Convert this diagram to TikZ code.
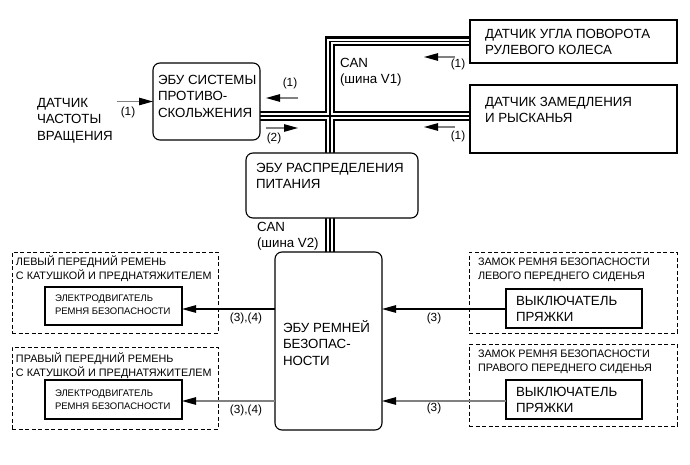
\documentclass[tikz,border=0pt]{standalone}
\usepackage{fontspec}
\setmainfont{Liberation Sans}
\usetikzlibrary{arrows.meta,fit,backgrounds}
\begin{document}
\begin{tikzpicture}[x=1pt,y=-1pt,
  every node/.style={inner sep=0pt,outer sep=0pt},
  rbox/.style={draw,line width=1.1pt,rounded corners=7pt,fill=white,inner sep=0pt},
  sbox/.style={draw,line width=1.1pt,fill=white,inner sep=0pt},
  dbox/.style={draw,line width=1pt,dash pattern=on 4pt off 2.5pt,inner sep=0pt},
  maintext/.style={anchor=north west,align=left,font=\fontsize{13.3}{16.6}\selectfont},
  smalltext/.style={anchor=north west,align=left,font=\fontsize{10.8}{14.2}\selectfont},
  tinytext/.style={anchor=north west,align=left,font=\fontsize{9.5}{13}\selectfont},
  lbl/.style={font=\fontsize{11.8}{13}\selectfont},
  arr/.style={line width=1.1pt,-{Triangle[length=14pt,width=7.5pt,color=black]}},
  garr/.style={arr,draw=black!50},
]
\useasboundingbox (0,0) rectangle (690,465);

% boxes
\node[rbox,fit={(153,63) (260,140)}] (abs) {};
\node[rbox,fit={(246,153) (418,218)}] (pwr) {};
\node[sbox,fit={(470,20) (677,63)}] (steer) {};
\node[sbox,fit={(470,85) (677,153)}] (yaw) {};
\node[rbox,fit={(275,252) (382,430)}] (belt) {};
\node[dbox,fit={(12,252) (218,333)}] (dl1) {};
\node[sbox,fit={(45,287) (182,325)}] (m1) {};
\node[dbox,fit={(12,347) (218,429)}] (dl2) {};
\node[sbox,fit={(45,380) (182,419)}] (m2) {};
\node[dbox,fit={(469,252) (677,333)}] (dr1) {};
\node[sbox,fit={(506,289) (642,328)}] (b1) {};
\node[dbox,fit={(469,344) (677,426)}] (dr2) {};
\node[sbox,fit={(506,380) (642,419)}] (b2) {};

% bus
\coordinate (bt) at (330,42);
\coordinate (bm) at (330,116);
\begin{scope}[on background layer]
\foreach \w/\c in {10/black,5.5/white,1.5/black}{
  \draw[line width=\w pt,draw=\c,line join=miter] (steer.west) -- (steer.west -| bt) -- (bt |- belt.north);
  \draw[line width=\w pt,draw=\c] (abs.east |- bm) -- (bm -| yaw.west);
}
\end{scope}

% texts
\node[maintext] (trot) at (37,98) {ДАТЧИК\\ЧАСТОТЫ\\ВРАЩЕНИЯ};
\node[maintext] (tabs) at (158,75) {ЭБУ СИСТЕМЫ\\ПРОТИВО-\\СКОЛЬЖЕНИЯ};
\node[maintext] (tpwr) at (256,163) {ЭБУ РАСПРЕДЕЛЕНИЯ\\ПИТАНИЯ};
\node[maintext] (tcan2) at (257,222) {CAN\\(шина V2)};
\node[maintext] (tcan1) at (340,58) {CAN\\(шина V1)};
\node[maintext] (tsteer) at (485,29) {ДАТЧИК УГЛА ПОВОРОТА\\РУЛЕВОГО КОЛЕСА};
\node[maintext] (tyaw) at (485,97) {ДАТЧИК ЗАМЕДЛЕНИЯ\\И РЫСКАНЬЯ};
\node[maintext] (tbelt) at (283,320) {ЭБУ РЕМНЕЙ\\БЕЗОПАС-\\НОСТИ};
\node[smalltext] (tdl1) at (16,256) {ЛЕВЫЙ ПЕРЕДНИЙ РЕМЕНЬ\\С КАТУШКОЙ И ПРЕДНАТЯЖИТЕЛЕМ};
\node[tinytext] (tm1) at (55,295) {ЭЛЕКТРОДВИГАТЕЛЬ\\РЕМНЯ БЕЗОПАСНОСТИ};
\node[smalltext] (tdl2) at (16,353) {ПРАВЫЙ ПЕРЕДНИЙ РЕМЕНЬ\\С КАТУШКОЙ И ПРЕДНАТЯЖИТЕЛЕМ};
\node[tinytext] (tm2) at (55,390) {ЭЛЕКТРОДВИГАТЕЛЬ\\РЕМНЯ БЕЗОПАСНОСТИ};
\node[smalltext] (tdr1) at (478,258) {ЗАМОК РЕМНЯ БЕЗОПАСНОСТИ\\ЛЕВОГО ПЕРЕДНЕГО СИДЕНЬЯ};
\node[maintext] (tb1) at (516,296) {ВЫКЛЮЧАТЕЛЬ\\ПРЯЖКИ};
\node[smalltext] (tdr2) at (478,350) {ЗАМОК РЕМНЯ БЕЗОПАСНОСТИ\\ПРАВОГО ПЕРЕДНЕГО СИДЕНЬЯ};
\node[maintext] (tb2) at (516,387) {ВЫКЛЮЧАТЕЛЬ\\ПРЯЖКИ};

% labels
\node[lbl] (l1) at (128,112) {(1)};
\node[lbl] (l2) at (290,83) {(1)};
\node[lbl] (l3) at (274,138) {(2)};
\node[lbl] (l4) at (458,64) {(1)};
\node[lbl] (l5) at (458,136) {(1)};
\node[lbl] (l6) at (246,318) {(3),(4)};
\node[lbl] (l7) at (246,410) {(3),(4)};
\node[lbl] (l8) at (434,318) {(3)};
\node[lbl] (l9) at (434,408) {(3)};

% small arrows
\coordinate (rotA) at (117,101.5);
\coordinate (a1s) at (298,98);  \coordinate (a1e) at (266,98);
\coordinate (a2s) at (266,128); \coordinate (a2e) at (298,128);
\coordinate (s1s) at (455,57);  \coordinate (s1e) at (424,57);
\coordinate (y1s) at (455,127); \coordinate (y1e) at (424,127);
\draw[garr] (rotA) -- (abs.west);
\draw[garr] (a1s) -- (a1e);
\draw[garr] (a2s) -- (a2e);
\draw[garr] (s1s) -- (s1e);
\draw[garr] (y1s) -- (y1e);

% belt arrows
\coordinate (r1) at (0,309);
\coordinate (r2) at (0,401);
\draw[arr] (belt.west |- r1) -- (m1.east |- r1);
\draw[arr] (b1.west |- r1) -- (belt.east |- r1);
\draw[garr] (belt.west |- r2) -- (m2.east |- r2);
\draw[garr] (b2.west |- r2) -- (belt.east |- r2);
\end{tikzpicture}
\end{document}
